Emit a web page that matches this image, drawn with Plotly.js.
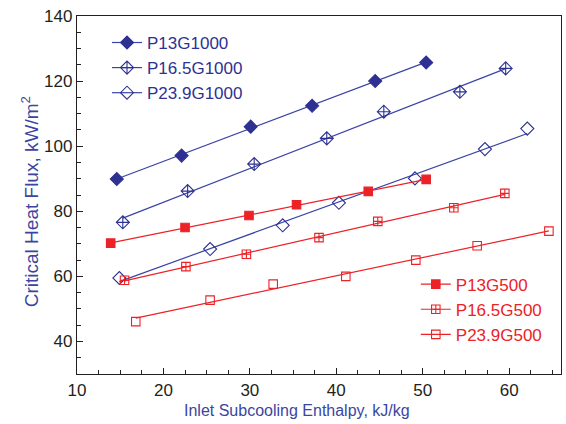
<!DOCTYPE html>
<html>
<head>
<meta charset="utf-8">
<script src="https://cdn.plot.ly/plotly-3.0.1.min.js"></script>
<style>html,body{margin:0;padding:0;background:#fff;}#chart{width:566px;height:424px;}</style>
</head>
<body>
<div id="chart"></div>
<script>
// Series names
const names = ["P13G1000", "P16.5G1000", "P23.9G1000", "P13G500", "P16.5G500", "P23.9G500"];

// Inlet subcooling enthalpy (kJ/kg) and critical heat flux (kW/m2)
const p13g1000_x  = [14.6, 22.1, 30.1, 37.2, 44.5, 50.4];
const p13g1000_y  = [89.9, 97.1, 106.0, 112.4, 120.0, 125.7];
const p165g1000_x = [15.3, 22.8, 30.5, 38.9, 45.5, 54.3, 59.6];
const p165g1000_y = [76.6, 86.2, 94.5, 102.4, 110.6, 116.7, 123.9];
const p239g1000_x = [14.9, 25.4, 33.8, 40.3, 49.1, 57.2, 62.1];
const p239g1000_y = [59.5, 68.4, 75.7, 82.6, 90.1, 99.1, 105.4];
const p13g500_x   = [13.9, 22.5, 29.9, 35.4, 43.7, 50.4];
const p13g500_y   = [70.2, 75.0, 78.7, 82.0, 86.1, 89.8];
const p165g500_x  = [15.5, 22.6, 29.6, 38.0, 44.8, 53.6, 59.5];
const p165g500_y  = [58.8, 63.0, 66.8, 71.9, 76.9, 81.1, 85.5];
const p239g500_x  = [16.8, 25.4, 32.7, 41.1, 49.2, 56.3, 64.6];
const p239g500_y  = [46.1, 52.7, 57.6, 60.0, 65.0, 69.4, 73.9];

const xTitle = "Inlet Subcooling Enthalpy, kJ/kg";
const yTitle = "Critical Heat Flux, kW/m<sup>2</sup>";

const BLUE = "#2e3192", BLUE_LINE = "#3a44a6", RED = "#ec2227", TITLE = "#3b45a0";
const series = [
  {x: p13g1000_x,  y: p13g1000_y,  sym: "diamond",             col: BLUE, lc: BLUE_LINE, size: 10, leg: "legend"},
  {x: p165g1000_x, y: p165g1000_y, sym: "diamond-cross-open",  col: BLUE, lc: BLUE_LINE, size: 10, leg: "legend"},
  {x: p239g1000_x, y: p239g1000_y, sym: "diamond-open",        col: BLUE, lc: BLUE_LINE, size: 10, leg: "legend"},
  {x: p13g500_x,   y: p13g500_y,   sym: "square",              col: RED,  lc: RED,       size: 8.5, leg: "legend2"},
  {x: p165g500_x,  y: p165g500_y,  sym: "square-cross-open",   col: RED,  lc: RED,       size: 8.5, leg: "legend2"},
  {x: p239g500_x,  y: p239g500_y,  sym: "square-open",         col: RED,  lc: RED,       size: 8.5, leg: "legend2"}
];

function fit(xs, ys) {
  const n = xs.length;
  let sx = 0, sy = 0, sxx = 0, sxy = 0;
  for (let i = 0; i < n; i++) { sx += xs[i]; sy += ys[i]; sxx += xs[i]*xs[i]; sxy += xs[i]*ys[i]; }
  const b = (n*sxy - sx*sy) / (n*sxx - sx*sx);
  const a = (sy - b*sx) / n;
  const x0 = Math.min(...xs), x1 = Math.max(...xs);
  return {x: [x0, x1], y: [a + b*x0, a + b*x1]};
}

const traces = [];
series.forEach((s, i) => {
  const f = fit(s.x, s.y);
  traces.push({x: f.x, y: f.y, mode: "lines", type: "scatter", showlegend: false,
    line: {color: s.lc, width: 1.2}, hoverinfo: "skip"});
  traces.push({x: s.x, y: s.y, mode: "markers", type: "scatter", showlegend: false,
    marker: {symbol: s.sym, size: s.size, color: s.col, line: {color: s.col, width: 1.1}}});
  traces.push({x: [null], y: [null], mode: "lines+markers", type: "scatter", name: names[i],
    legend: s.leg, line: {color: s.lc, width: 1.2},
    marker: {symbol: s.sym, size: s.size, color: s.col, line: {color: s.col, width: 1.1}}});
});

const axisCommon = {
  showgrid: false, zeroline: false, showline: true, linecolor: "#231f20", linewidth: 1.2,
  mirror: true, ticks: "inside", ticklen: 6, tickwidth: 1, tickcolor: "#231f20",
  tickfont: {family: "Liberation Sans, Arial, sans-serif", size: 17, color: "#231f20"}
};

const layout = {
  width: 566, height: 424,
  margin: {l: 77, r: 5, t: 16, b: 50},
  paper_bgcolor: "#ffffff", plot_bgcolor: "#ffffff",
  font: {family: "Liberation Sans, Arial, sans-serif"},
  xaxis: Object.assign({}, axisCommon, {
    range: [10, 66], dtick: 10, tick0: 10,
    minor: {dtick: 2.5, ticks: "inside", ticklen: 4, tickcolor: "#231f20"}
  }),
  yaxis: Object.assign({}, axisCommon, {
    range: [30, 140], dtick: 20, tick0: 40,
    minor: {dtick: 5, ticks: "inside", ticklen: 4, tickcolor: "#231f20"}
  }),
  annotations: [
    {text: xTitle, xref: "paper", yref: "paper", x: 0.455, y: -0.072, xanchor: "center", yanchor: "top",
     showarrow: false, font: {size: 16, color: TITLE}},
    {text: yTitle, xref: "paper", yref: "paper", x: -0.097, y: 0.48, xanchor: "center", yanchor: "middle",
     textangle: -90, showarrow: false, font: {size: 19, color: TITLE}}
  ],
  legend: {x: 0.062, y: 0.975, xanchor: "left", yanchor: "top", bgcolor: "rgba(0,0,0,0)",
    font: {size: 17, color: BLUE}, itemwidth: 30, tracegroupgap: 0},
  legend2: {x: 0.70, y: 0.30, xanchor: "left", yanchor: "top", bgcolor: "rgba(0,0,0,0)",
    font: {size: 17, color: RED}, itemwidth: 30, tracegroupgap: 0},
  showlegend: true
};

Plotly.newPlot("chart", traces, layout, {staticPlot: true, displayModeBar: false});
</script>
</body>
</html>
